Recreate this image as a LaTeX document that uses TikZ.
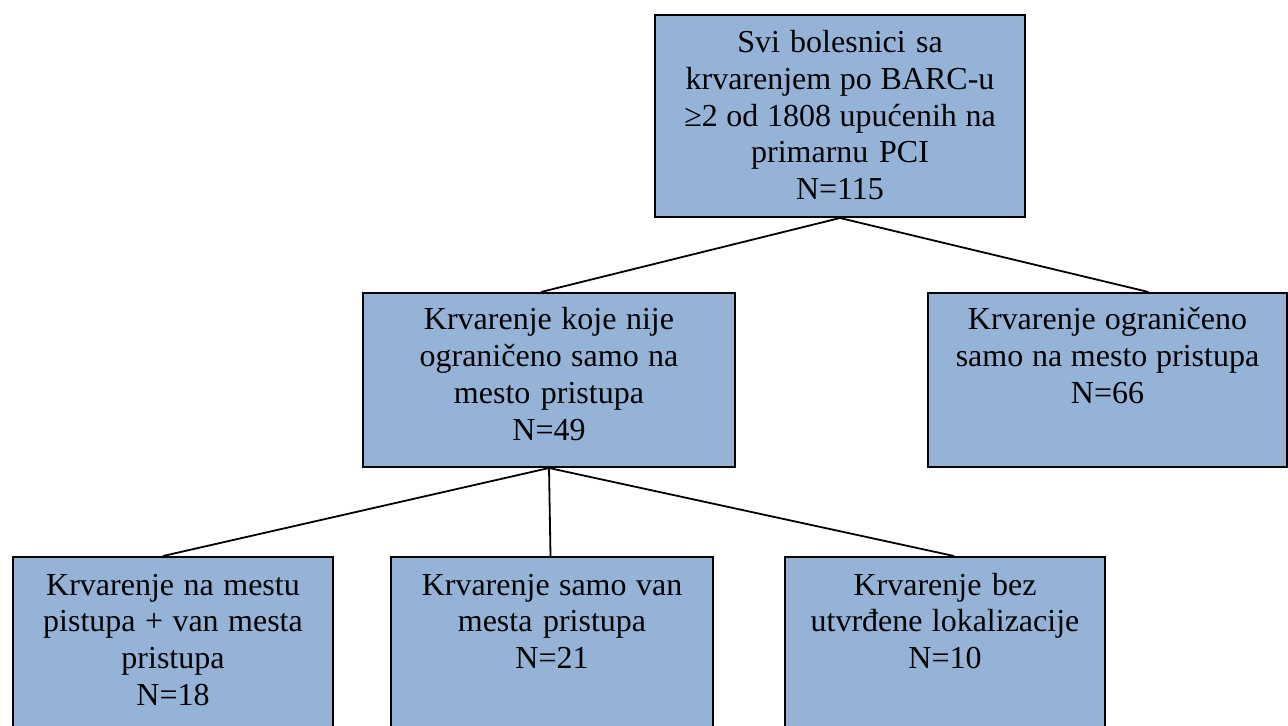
\documentclass[tikz,border=0pt]{standalone}
\usepackage{fontspec}
\setmainfont{Liberation Serif}
\usetikzlibrary{calc}
\definecolor{boxblue}{RGB}{149,179,215}
\tikzset{
	box/.style={draw=black, fill=boxblue, line width=1pt, anchor=north west, inner sep=0pt},
	boxtext/.style={anchor=base, text width=175pt, align=center, inner sep=0pt, font=\fontsize{16}{18.4}\selectfont,
		execute at begin node={\spaceskip=4pt plus 1pt\relax}},
	link/.style={line width=0.9pt}
}
\begin{document}
\begin{tikzpicture}[x=0.5pt,y=0.5pt]
	\clip (0,0) rectangle (1288,-726);
	% les boites
	\node[box, minimum width=185pt, minimum height=101pt] (all) at (654,-14) {};
	\node[box, minimum width=186pt, minimum height=87pt] (other) at (362,-292) {};
	\node[box, minimum width=179.5pt, minimum height=87pt] (access) at (927,-292) {};
	\node[box, minimum width=160pt, minimum height=100pt] (both) at (12,-556) {};
	\node[box, minimum width=161pt, minimum height=100pt] (outside) at (390,-556) {};
	\node[box, minimum width=160pt, minimum height=100pt] (unknown) at (784,-556) {};
	% les textes
	\node[boxtext] (allT) at ([yshift=-19.25pt]all.north) {Svi bolesnici sa\\krvarenjem po BARC-u\\≥2 od 1808 upućenih na\\primarnu PCI\\N=115};
	\node[boxtext] (otherT) at ([yshift=-19pt]other.north) {Krvarenje koje nije\\ograničeno samo na\\mesto pristupa\\N=49};
	\node[boxtext] (accessT) at ([yshift=-19pt]access.north) {Krvarenje ograničeno\\samo na mesto pristupa\\N=66};
	\node[boxtext] (bothT) at ([yshift=-19.5pt]both.north) {Krvarenje na mestu\\pistupa + van mesta\\pristupa\\N=18};
	\node[boxtext] (outsideT) at ([yshift=-19.5pt]outside.north) {Krvarenje samo van\\mesta pristupa\\N=21};
	\node[boxtext] (unknownT) at ([yshift=-19.5pt]unknown.north) {Krvarenje bez\\utvrđene lokalizacije\\N=10};
	% les liens
	\draw[link] (all.south) -- ([xshift=-4pt]other.north);
	\draw[link] (all.south) -- ([xshift=20.5pt]access.north);
	\draw[link] (other.south) -- ([xshift=-5pt]both.north);
	\draw[link] (other.south) -- ([xshift=-0.75pt]outside.north);
	\draw[link] (other.south) -- ([xshift=4.5pt]unknown.north);
\end{tikzpicture}
\end{document}
